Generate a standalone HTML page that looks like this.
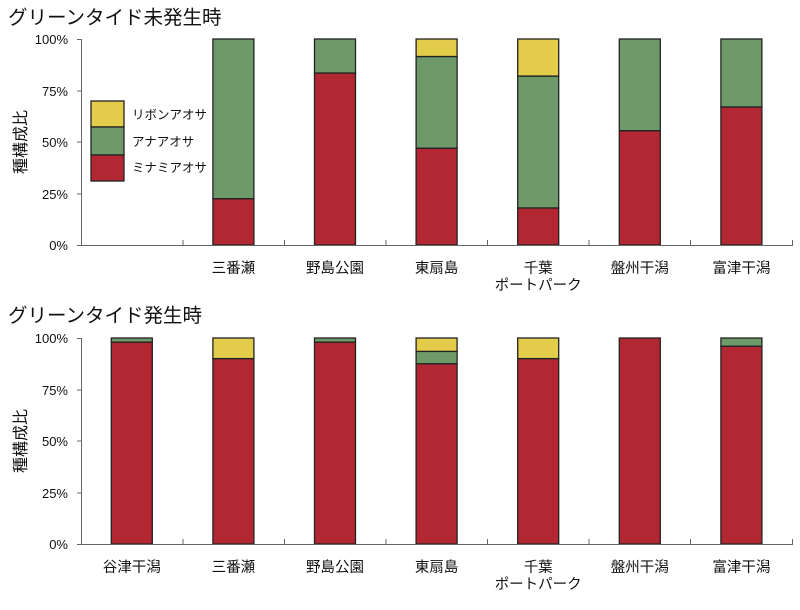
<!DOCTYPE html>
<html><head><meta charset="utf-8"><style>
body{margin:0;background:#fff}
text{font-family:"Liberation Sans","Noto Sans CJK JP",sans-serif;fill:#111}
</style></head><body>
<svg width="800" height="605" viewBox="0 0 800 605" xmlns="http://www.w3.org/2000/svg">
<g stroke="#222" stroke-width="1.3">
<rect x="212.9" y="198.65" width="41" height="46.35" fill="#b22731"/>
<rect x="212.9" y="39" width="41" height="159.65" fill="#6e9a6a"/>
<rect x="314.5" y="72.99" width="41" height="172.01" fill="#b22731"/>
<rect x="314.5" y="39" width="41" height="33.99" fill="#6e9a6a"/>
<rect x="416.1" y="148.18" width="41" height="96.82" fill="#b22731"/>
<rect x="416.1" y="56.51" width="41" height="91.67" fill="#6e9a6a"/>
<rect x="416.1" y="39" width="41" height="17.51" fill="#e2cc4a"/>
<rect x="517.7" y="207.92" width="41" height="37.08" fill="#b22731"/>
<rect x="517.7" y="76.08" width="41" height="131.84" fill="#6e9a6a"/>
<rect x="517.7" y="39" width="41" height="37.08" fill="#e2cc4a"/>
<rect x="619.3" y="130.67" width="41" height="114.33" fill="#b22731"/>
<rect x="619.3" y="39" width="41" height="91.67" fill="#6e9a6a"/>
<rect x="720.9" y="106.98" width="41" height="138.02" fill="#b22731"/>
<rect x="720.9" y="39" width="41" height="67.98" fill="#6e9a6a"/>
<rect x="91" y="101" width="33" height="26" fill="#e2cc4a"/>
<rect x="91" y="127" width="33" height="28" fill="#6e9a6a"/>
<rect x="91" y="155" width="33" height="26" fill="#b22731"/>
<rect x="111.3" y="342.12" width="41" height="201.88" fill="#b22731"/>
<rect x="111.3" y="338" width="41" height="4.12" fill="#6e9a6a"/>
<rect x="212.9" y="358.6" width="41" height="185.4" fill="#b22731"/>
<rect x="212.9" y="338" width="41" height="20.6" fill="#e2cc4a"/>
<rect x="314.5" y="342.12" width="41" height="201.88" fill="#b22731"/>
<rect x="314.5" y="338" width="41" height="4.12" fill="#6e9a6a"/>
<rect x="416.1" y="363.75" width="41" height="180.25" fill="#b22731"/>
<rect x="416.1" y="351.39" width="41" height="12.36" fill="#6e9a6a"/>
<rect x="416.1" y="338" width="41" height="13.39" fill="#e2cc4a"/>
<rect x="517.7" y="358.6" width="41" height="185.4" fill="#b22731"/>
<rect x="517.7" y="338" width="41" height="20.6" fill="#e2cc4a"/>
<rect x="619.3" y="338" width="41" height="206" fill="#b22731"/>
<rect x="720.9" y="346.24" width="41" height="197.76" fill="#b22731"/>
<rect x="720.9" y="338" width="41" height="8.24" fill="#6e9a6a"/>
</g>
<g stroke="#666" stroke-width="1" fill="none">
<path d="M81.5 39V245.5H793M77 39.5H81.5M77 91H81.5M77 142H81.5M77 194H81.5M77 245.5H81.5"/>
<path d="M183 240V245M284.5 240V245M386 240V245M487.5 240V245M589 240V245M690.5 240V245M792.5 240V245"/>
<path d="M81.5 338V544.5H793M77 338.5H81.5M77 390H81.5M77 441H81.5M77 493H81.5M77 544.5H81.5"/>
<path d="M183 539V544M284.5 539V544M386 539V544M487.5 539V544M589 539V544M690.5 539V544M792.5 539V544"/>
</g>
<text x="8" y="24" font-size="19.5">グリーンタイド未発生時</text>
<text x="8" y="322" font-size="19.5">グリーンタイド発生時</text>
<g font-size="13" text-anchor="end">
<text x="68" y="44">100%</text><text x="68" y="96">75%</text><text x="68" y="147">50%</text><text x="68" y="199">25%</text><text x="68" y="250">0%</text>
<text x="68" y="343">100%</text><text x="68" y="395">75%</text><text x="68" y="446">50%</text><text x="68" y="498">25%</text><text x="68" y="549">0%</text>
</g>
<text font-size="16" transform="translate(26,142) rotate(-90)" text-anchor="middle">種構成比</text>
<text font-size="16" transform="translate(26,441) rotate(-90)" text-anchor="middle">種構成比</text>
<g font-size="12.5">
<text x="132" y="119">リボンアオサ</text>
<text x="132" y="146">アナアオサ</text>
<text x="132" y="172">ミナミアオサ</text>
</g>
<g font-size="14.5" text-anchor="middle">
<text x="233.4" y="273">三番瀬</text><text x="335" y="273">野島公園</text><text x="436.6" y="273">東扇島</text>
<text x="538.2" y="273">千葉</text><text x="538.2" y="290">ポートパーク</text>
<text x="639.8" y="273">盤州干潟</text><text x="741.4" y="273">富津干潟</text>
<text x="131.8" y="572">谷津干潟</text>
<text x="233.4" y="572">三番瀬</text><text x="335" y="572">野島公園</text><text x="436.6" y="572">東扇島</text>
<text x="538.2" y="572">千葉</text><text x="538.2" y="589">ポートパーク</text>
<text x="639.8" y="572">盤州干潟</text><text x="741.4" y="572">富津干潟</text>
</g>
</svg>
</body></html>
